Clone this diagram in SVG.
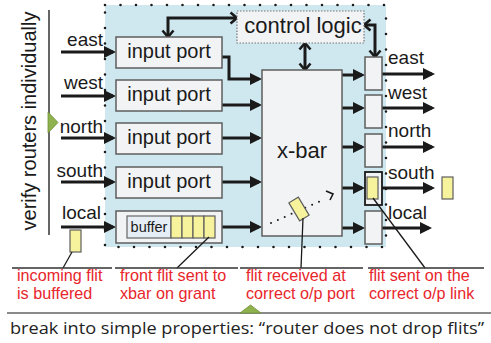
<svg xmlns="http://www.w3.org/2000/svg" width="491" height="343" viewBox="0 0 491 343">
<defs>
<style>
.port{fill:#f2f3f5;stroke:#5e5e5e;stroke-width:1.5}
.hot{fill:#f2f3f5;stroke:#1a1a1a;stroke-width:1.8}
.flit{fill:#f7f39c;stroke:#5e5e5e;stroke-width:1.2}
.t{font-family:"Liberation Sans",Arial,sans-serif;fill:#1a1a1a}
.lbl{font-family:"Liberation Sans",Arial,sans-serif;fill:#1a1a1a;font-size:19px}
.red{font-family:"Liberation Sans",Arial,sans-serif;fill:#e8262c;font-size:16.2px}
.flow{stroke:#1a1a1a;stroke-width:3;fill:none;marker-end:url(#ah)}
.ctl{stroke:#1a1a1a;stroke-width:3;fill:none;marker-start:url(#cv);marker-end:url(#cv)}
.lead{stroke:#1a1a1a;stroke-width:1.3;fill:none}
.under{stroke:#333;stroke-width:1.5;fill:none}
.tri{fill:#8fb24e;stroke:#6d8f35;stroke-width:0.8}
</style>
<marker id="ah" viewBox="0 0 12 12" refX="9" refY="6" markerWidth="12" markerHeight="12" markerUnits="userSpaceOnUse" orient="auto"><path d="M0,0 L12,6 L0,12 z" fill="#1a1a1a"/></marker>
<marker id="cv" viewBox="0 0 14 14" refX="11" refY="7" markerWidth="14" markerHeight="14" markerUnits="userSpaceOnUse" orient="auto-start-reverse"><path d="M4.5,1.5 L11,7 L4.5,12.5" fill="none" stroke="#1a1a1a" stroke-width="2.6"/></marker>
</defs>

<g id="router-region">
<rect x="105" y="5" width="281" height="242" fill="#cfe8f0"/>
<rect x="105" y="5" width="281" height="242" fill="none" stroke="#1a1a1a" stroke-width="2.6" stroke-linecap="round" stroke-dasharray="0 15.5"/>
</g>

<g id="side-label">
<line x1="49" y1="10" x2="49" y2="235" stroke="#333" stroke-width="1.5"/>
<text class="t" font-size="20" text-anchor="middle" transform="translate(35.5,121) rotate(-90)" fill="#333">verify routers individually</text>
<polygon class="tri" points="48,112 58,122.5 48,133"/>
</g>

<g id="connectors">
<path class="flow" d="M61,52 H113"/>
<path class="flow" d="M61,96 H113"/>
<path class="flow" d="M61,138 H113"/>
<path class="flow" d="M61,182 H113"/>
<path class="flow" d="M61,227 H113"/>
<path class="flow" d="M222,57 H229 V79 H259"/>
<path class="flow" d="M222,105 H259"/>
<path class="flow" d="M222,138 H259"/>
<path class="flow" d="M222,182 H259"/>
<path class="flow" d="M222,227 H259"/>
<path class="flow" d="M342,75 H362"/>
<path class="flow" d="M342,108 H362"/>
<path class="flow" d="M342,147 H362"/>
<path class="flow" d="M342,188 H362"/>
<path class="flow" d="M342,228 H362"/>
<path class="flow" d="M382,74 H432"/>
<path class="flow" d="M382,108 H432"/>
<path class="flow" d="M382,147 H432"/>
<path class="flow" d="M382,188 H432"/>
<path class="flow" d="M382,228 H429"/>
<path class="ctl" d="M237,18 H168 V37"/>
<path class="ctl" d="M364,25 H375 V57"/>
<path class="ctl" d="M305,43 V70"/>
</g>

<g id="in-east"><rect class="port" x="116" y="37" width="106" height="31"/><text class="t" font-size="20" x="169" y="58" text-anchor="middle">input port</text><text class="lbl" x="103" y="46" text-anchor="end">east</text></g>
<g id="in-west"><rect class="port" x="116" y="80" width="106" height="31"/><text class="t" font-size="20" x="169" y="101" text-anchor="middle">input port</text><text class="lbl" x="103" y="89" text-anchor="end">west</text></g>
<g id="in-north"><rect class="port" x="116" y="123" width="106" height="31"/><text class="t" font-size="20" x="169" y="144" text-anchor="middle">input port</text><text class="lbl" x="103" y="133" text-anchor="end">north</text></g>
<g id="in-south"><rect class="port" x="116" y="167" width="106" height="31"/><text class="t" font-size="20" x="169" y="188" text-anchor="middle">input port</text><text class="lbl" x="103" y="177" text-anchor="end">south</text></g>
<g id="in-local">
<rect class="port" x="116" y="211" width="106" height="32"/>
<rect x="127" y="216" width="44" height="22" fill="#e6edf5" stroke="#666" stroke-width="1.2"/>
<text class="t" font-size="14.5" x="149" y="232" text-anchor="middle">buffer</text>
<rect class="flit" x="171" y="216" width="11" height="22"/>
<rect class="flit" x="182" y="216" width="11" height="22"/>
<rect class="flit" x="193" y="216" width="11" height="22"/>
<rect class="flit" x="204" y="216" width="11" height="22"/>
<text class="lbl" x="101" y="219" text-anchor="end">local</text>
</g>

<g id="control-logic">
<rect x="237" y="11" width="127" height="32" fill="#f2f3f5" stroke="#777" stroke-width="1.2" stroke-dasharray="1.5 1.5"/>
<text class="t" font-size="22" x="303" y="33" text-anchor="middle">control logic</text>
</g>

<g id="xbar">
<rect class="port" x="262" y="70" width="80" height="166"/>
<text class="t" font-size="22" x="302" y="158" text-anchor="middle">x-bar</text>
<path d="M271,223 L325,199" stroke="#1a1a1a" stroke-width="2" stroke-linecap="round" stroke-dasharray="0 7.5" fill="none"/>
<path d="M326,191 L333,194 L330,200" stroke="#1a1a1a" stroke-width="1.6" fill="none"/>
<rect class="flit" x="-5.5" y="-10.5" width="11" height="21" transform="translate(299,209) rotate(-31)"/>
</g>

<g id="out-east"><rect class="port" x="365" y="57" width="17" height="33"/><text class="lbl" x="388" y="64">east</text></g>
<g id="out-west"><rect class="port" x="365" y="95" width="17" height="33"/><text class="lbl" x="388" y="99">west</text></g>
<g id="out-north"><rect class="port" x="365" y="134" width="17" height="33"/><text class="lbl" x="388" y="137">north</text></g>
<g id="out-south"><rect class="hot" x="365" y="172" width="17" height="33"/><rect class="flit" x="367" y="177" width="11" height="22"/><text class="lbl" x="388" y="179">south</text></g>
<g id="out-local"><rect class="port" x="365" y="211" width="17" height="33"/><text class="lbl" x="388" y="219">local</text></g>

<g id="flit-out"><rect class="flit" x="442" y="177" width="11" height="22"/></g>
<g id="flit-in"><rect class="flit" x="70" y="230" width="11" height="22"/></g>

<g id="annotations">
<path class="lead" d="M72,252 L63,268"/>
<path class="lead" d="M209,237 L177,268"/>
<path class="lead" d="M303,218 L301,268"/>
<path class="lead" d="M373,198 L425,268"/>
<path class="under" d="M12,268 H112 M115,268 H238 M240,268 H363 M368,268 H484"/>
<text class="red" x="17" y="281">incoming flit<tspan x="17" dy="18">is buffered</tspan></text>
<text class="red" x="120" y="281">front flit sent to<tspan x="120" dy="18">xbar on grant</tspan></text>
<text class="red" x="246" y="281">flit received at<tspan x="246" dy="18">correct o/p port</tspan></text>
<text class="red" x="369" y="281">flit sent on the<tspan x="369" dy="18">correct o/p link</tspan></text>
</g>

<g id="footer">
<line x1="7" y1="313" x2="491" y2="313" stroke="#8a8a8a" stroke-width="2"/>
<polygon class="tri" points="240,313 261,313 250.5,305"/>
<text x="10" y="334" font-family="'Open Sans','Liberation Sans',sans-serif" font-size="16.5" fill="#222" textLength="474" lengthAdjust="spacingAndGlyphs">break into simple properties: “router does not drop flits”</text>
</g>
</svg>
